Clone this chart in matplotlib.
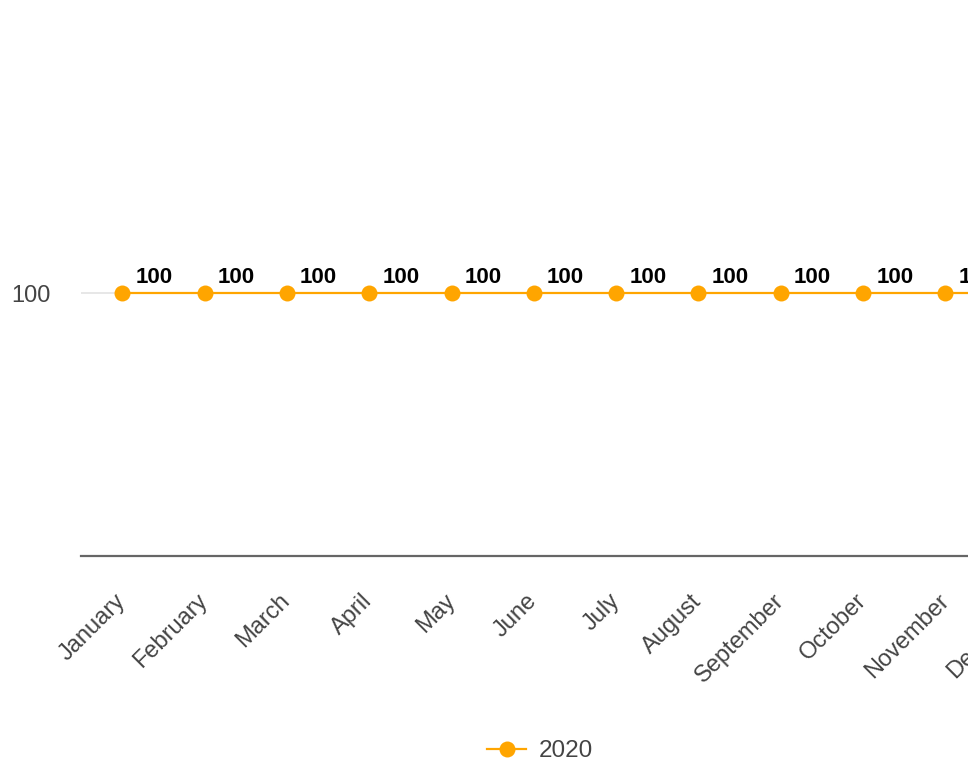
import matplotlib
matplotlib.use('Agg')
import matplotlib.pyplot as plt

months = ['January', 'February', 'March', 'April', 'May', 'June', 'July',
          'August', 'September', 'October', 'November', 'December']
values_2020 = [100, 100, 100, 100, 100, 100, 100, 100, 100, 100, 100, 100]
series_name = '2020'

plt.rcParams['font.family'] = ['Liberation Sans', 'DejaVu Sans']

W, H = 968, 768
fig = plt.figure(figsize=(W / 100, H / 100), dpi=100)

# plot area runs past the right edge, like the clipped original
left, right = 81, 1069
top, bottom = 30, 556
ax = fig.add_axes([left / W, 1 - bottom / H, (right - left) / W, (bottom - top) / H])

x = list(range(len(months)))
line, = ax.plot(x, values_2020, color='#FFA500', linewidth=1.6, marker='o',
                markersize=11.5, markeredgewidth=0, label=series_name, zorder=3)

for xi, v in zip(x, values_2020):
    ax.annotate(str(v), (xi, v), xytext=(9.5, 7.5), textcoords='offset points',
                ha='left', va='baseline', fontsize=16, fontweight='bold',
                color='black')

ax.set_xlim(-0.5, len(months) - 0.5)
ax.set_ylim(0, 200)
ax.set_yticks([100])
ax.set_yticklabels(['100'])
ax.set_xticks(x)
ax.set_xticklabels(months, rotation=45, ha='right', va='center',
                   rotation_mode='anchor')

ax.grid(axis='y', color='#e3e3e3', linewidth=1.2)
ax.set_axisbelow(True)
for s in ['top', 'right', 'left']:
    ax.spines[s].set_visible(False)
ax.spines['bottom'].set_color('#666666')
ax.spines['bottom'].set_linewidth(1.6)
ax.tick_params(axis='both', length=0, labelsize=17, colors='#444444')
ax.tick_params(axis='x', pad=30)
ax.tick_params(axis='y', pad=22)

fig.legend(handles=[line], labels=[series_name], loc='center',
           bbox_to_anchor=(540 / W, 1 - 751 / H), frameon=False,
           fontsize=17.5, labelcolor='#444444', handlelength=1.6,
           handletextpad=0.5, markerscale=1.0)

fig.savefig('out.png', dpi=100)
